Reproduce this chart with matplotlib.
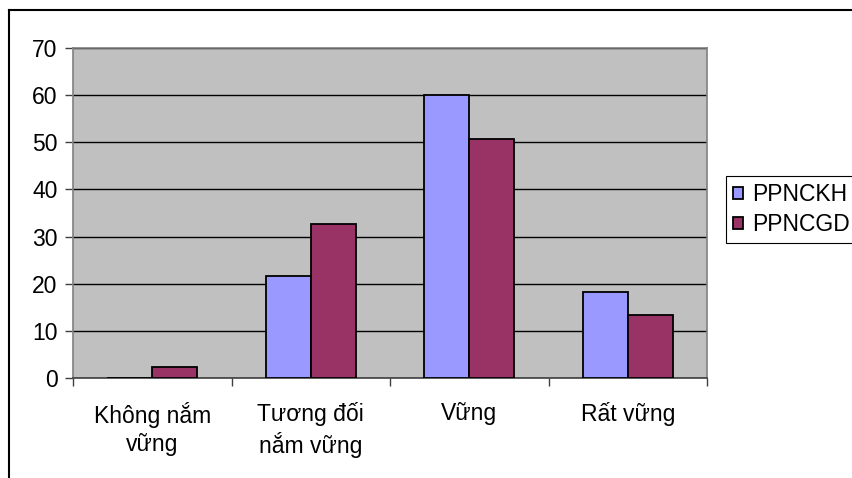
import numpy as np
import matplotlib
matplotlib.use('Agg')
import matplotlib.pyplot as plt
from matplotlib.lines import Line2D

# survey results: two groups, four levels of mastery
categories = ['Không nắm\nvững', 'Tương đối\nnắm vững', 'Vững', 'Rất vững']
series_names = ['PPNCKH', 'PPNCGD']
ppnckh = [0, 21.6, 60, 18.2]
ppncgd = [2.4, 32.7, 50.7, 13.3]
yticks = [0, 10, 20, 30, 40, 50, 60, 70]

colors = ['#9999FF', '#993366']

plt.rcParams['font.family'] = ['Liberation Sans', 'DejaVu Sans']
plt.rcParams['font.size'] = 16.5

W, H = 852, 478
fig = plt.figure(figsize=(W / 100, H / 100), dpi=100)
fig.patch.set_facecolor('white')

# plot area in pixels
left, right, top, bottom = 73, 707, 48, 378
ax = fig.add_axes([left / W, 1 - bottom / H, (right - left) / W, (bottom - top) / H])
ax.set_facecolor('#C0C0C0')

x = np.arange(len(categories))
bw = 0.285
ax.bar(x - bw / 2, ppnckh, bw, color=colors[0], edgecolor='black', linewidth=1.3, label=series_names[0], zorder=3)
ax.bar(x + bw / 2, ppncgd, bw, color=colors[1], edgecolor='black', linewidth=1.3, label=series_names[1], zorder=3)

ax.set_xlim(-0.5, len(categories) - 0.5)
ax.set_ylim(0, 70)
ax.set_yticks(yticks)
ax.yaxis.grid(True, color='black', linewidth=1.0, zorder=1)
ax.set_axisbelow(True)

# category separators as major ticks, labels on minor ticks
ax.set_xticks(np.arange(-0.5, len(categories), 1))
ax.set_xticklabels([])
ax.set_xticks(x, minor=True)
ax.set_xticklabels(categories, minor=True, linespacing=1.3)
ax.tick_params(axis='x', which='major', direction='out', length=6, color='#404040', width=1)
ax.tick_params(axis='x', which='minor', length=0, pad=17)
ax.tick_params(axis='y', direction='out', length=6, color='#404040', width=1, pad=5)

for s in ax.spines.values():
    s.set_color('#808080')
    s.set_linewidth(1.2)
ax.spines['bottom'].set_color('#404040')

leg = ax.legend(loc='upper left', bbox_to_anchor=(726 / W, 1 - 176 / H), bbox_transform=fig.transFigure,
                frameon=True, fancybox=False, framealpha=1, edgecolor='black',
                handlelength=0.42, handleheight=0.42, handletextpad=0.42,
                borderpad=0.3, borderaxespad=0, labelspacing=0.3)
leg.get_frame().set_linewidth(0.8)

# outer chart border (runs off the right and bottom edges)
fig.add_artist(Line2D([9 / W, 1], [1 - 10 / H, 1 - 10 / H], color='black', linewidth=1.5))
fig.add_artist(Line2D([9 / W, 9 / W], [0, 1 - 10 / H], color='black', linewidth=1.5))

fig.savefig('out.png', dpi=100)
